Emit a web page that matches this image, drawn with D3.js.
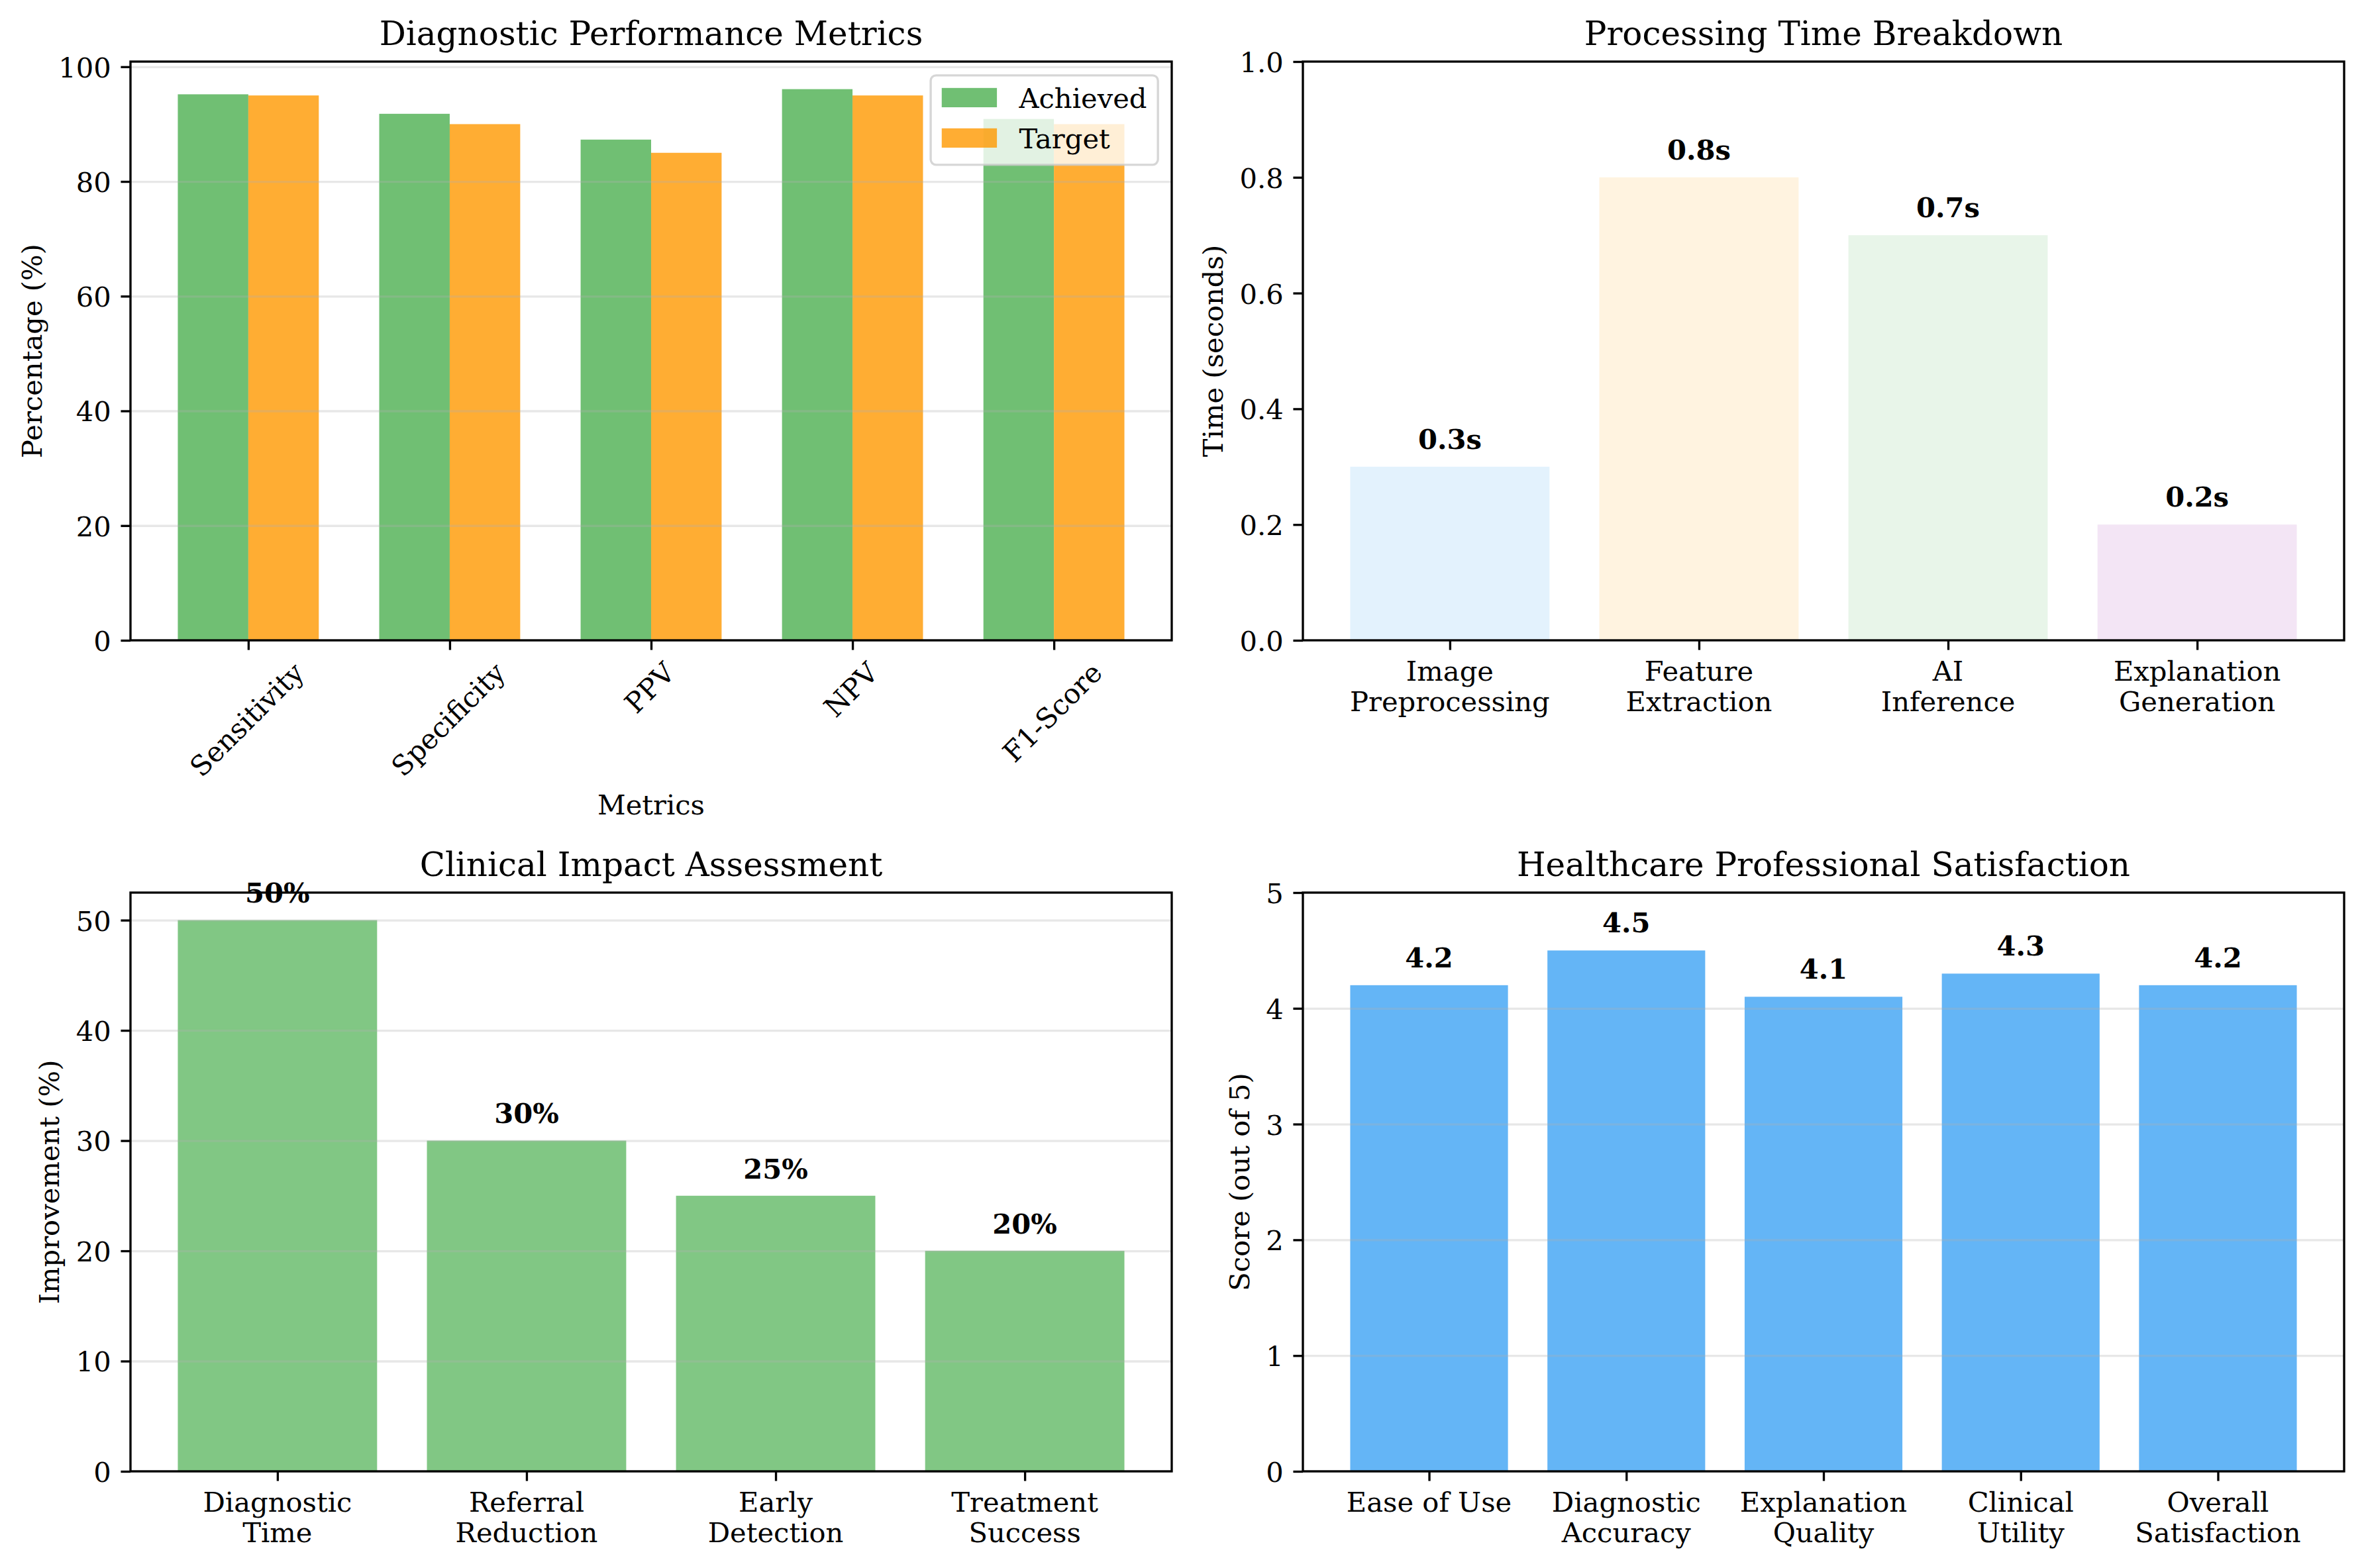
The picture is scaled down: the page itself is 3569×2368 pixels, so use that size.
<!DOCTYPE html>
<html>
<head>
<meta charset="utf-8">
<script src="https://cdn.jsdelivr.net/npm/d3@7"></script>
<style>
  body { margin: 0; background: #fff; }
</style>
</head>
<body>
<div id="chart"></div>
<script>
// values
const metricNames = ['Sensitivity', 'Specificity', 'PPV', 'NPV', 'F1-Score'];
const achievedVals = [95.2, 91.8, 87.3, 96.1, 90.9];
const targetVals = [95, 90, 85, 95, 90];
const metricTicks = [0, 20, 40, 60, 80, 100];

const stageNames = [['Image', 'Preprocessing'], ['Feature', 'Extraction'], ['AI', 'Inference'], ['Explanation', 'Generation']];
const stageTimes = [0.3, 0.8, 0.7, 0.2];
const stageColors = ['#E3F2FD', '#FFF3E0', '#E8F5E9', '#F3E5F5'];
const timeTicks = [0, 0.2, 0.4, 0.6, 0.8, 1.0];

const impactNames = [['Diagnostic', 'Time'], ['Referral', 'Reduction'], ['Early', 'Detection'], ['Treatment', 'Success']];
const impactVals = [50, 30, 25, 20];
const impactTicks = [0, 10, 20, 30, 40, 50];

const satNames = [['Ease of Use'], ['Diagnostic', 'Accuracy'], ['Explanation', 'Quality'], ['Clinical', 'Utility'], ['Overall', 'Satisfaction']];
const satVals = [4.2, 4.5, 4.1, 4.3, 4.2];
const satTicks = [0, 1, 2, 3, 4, 5];

const W = 3569, H = 2368;
const PT = 300 / 72;
const FS = 10 * PT, TFS = 12 * PT;
const LW = 0.8 * PT;
const TICK = 3.5 * PT;
const DESC = 0.21 * FS;

const svg = d3.select('#chart').append('svg')
    .attr('width', W).attr('height', H)
    .style('font-family', '"DejaVu Serif", serif');
svg.append('rect').attr('width', W).attr('height', H).attr('fill', '#fff');

function makeAxes(box, xDomain, yDomain) {
    const g = svg.append('g').attr('transform', `translate(${box.x},${box.y})`);
    const x = d3.scaleLinear().domain(xDomain).range([0, box.w]);
    const y = d3.scaleLinear().domain(yDomain).range([box.h, 0]);
    return { g, x, y, box };
}

// grid, spines, ticks, labels and title; called after the bars
function finishAxes(ax, o) {
    const { g, x, y, box } = ax;
    if (o.grid) {
        const grid = g.append('g').call(d3.axisLeft(y).tickValues(o.yTicks).tickSize(-box.w).tickFormat(''));
        grid.select('.domain').remove();
        grid.selectAll('line').attr('stroke', '#b0b0b0').attr('stroke-opacity', 0.3).attr('stroke-width', LW);
    }
    g.append('rect').attr('width', box.w).attr('height', box.h)
        .attr('fill', 'none').attr('stroke', '#000').attr('stroke-width', LW);

    const ya = g.append('g').call(d3.axisLeft(y).tickValues(o.yTicks).tickFormat(o.yFormat)
        .tickSize(TICK).tickSizeOuter(0).tickPadding(TICK));
    ya.select('.domain').remove();
    ya.selectAll('line').attr('stroke', '#000').attr('stroke-width', LW);
    ya.selectAll('text').attr('font-size', FS).attr('font-family', '"DejaVu Serif", serif')
        .attr('fill', '#000').attr('dy', '0.37em');
    let maxW = 0;
    ya.selectAll('text').each(function () { maxW = Math.max(maxW, this.getComputedTextLength()); });

    const xa = g.append('g').attr('transform', `translate(0,${box.h})`)
        .call(d3.axisBottom(x).tickValues(d3.range(o.labels.length)).tickFormat('').tickSize(TICK).tickSizeOuter(0));
    xa.select('.domain').remove();
    xa.selectAll('line').attr('stroke', '#000').attr('stroke-width', LW);

    let labelBottom = box.h + 2 * TICK;
    if (o.rotate) {
        const lh = 0.97 * FS, c = Math.SQRT1_2;
        o.labels.forEach((lab, i) => {
            const t = g.append('g');
            const txt = t.append('text').attr('font-size', FS).attr('text-anchor', 'middle')
                .attr('y', lh / 2 - DESC).text(lab);
            const tw = txt.node().getComputedTextLength();
            const half = (tw + lh) * c / 2;
            t.attr('transform', `translate(${x(i)},${box.h + 2 * TICK + half}) rotate(-45)`);
            labelBottom = Math.max(labelBottom, box.h + 2 * TICK + 2 * half);
        });
    } else {
        o.labels.forEach((lines, i) => {
            const txt = g.append('text').attr('font-size', FS).attr('text-anchor', 'middle')
                .attr('transform', `translate(${x(i)},${box.h + 61})`);
            lines.forEach((ln, k) => txt.append('tspan').attr('x', 0).attr('y', k * 46).text(ln));
        });
    }
    if (o.xlabel) {
        g.append('text').attr('font-size', FS).attr('text-anchor', 'middle')
            .attr('x', box.w / 2).attr('y', labelBottom + 4 * PT + 0.76 * FS).text(o.xlabel);
    }
    const yx = -(2 * TICK + maxW + 4 * PT + DESC);
    g.append('text').attr('font-size', FS).attr('text-anchor', 'middle')
        .attr('transform', `translate(${yx},${box.h / 2}) rotate(-90)`).text(o.ylabel);

    g.append('text').attr('font-size', TFS).attr('text-anchor', 'middle')
        .attr('x', box.w / 2).attr('y', -6 * PT).text(o.title);
}

function valueLabels(ax, vals, offset, fmt) {
    ax.g.selectAll(null).data(vals).join('text')
        .attr('font-size', FS).attr('font-weight', 'bold').attr('text-anchor', 'middle')
        .attr('x', (d, i) => ax.x(i))
        .attr('y', d => ax.y(d + offset) - 9.5)
        .text(fmt);
}

// 1. Diagnostic performance (grouped bars)
const bw = 0.35;
const a1 = makeAxes({ x: 197, y: 93, w: 1572, h: 874 }, [-0.585, 4.585], [0, 100.905]);
[[achievedVals, '#4CAF50', -bw / 2], [targetVals, '#FF9800', bw / 2]].forEach(([vals, col, off]) => {
    a1.g.selectAll(null).data(vals).join('rect')
        .attr('x', (d, i) => a1.x(i + off - bw / 2))
        .attr('width', a1.x(bw) - a1.x(0))
        .attr('y', d => a1.y(d))
        .attr('height', d => a1.y(0) - a1.y(d))
        .attr('fill', col).attr('fill-opacity', 0.8);
});
finishAxes(a1, {
    yTicks: metricTicks, yFormat: d3.format('d'), grid: true, labels: metricNames, rotate: true,
    xlabel: 'Metrics', ylabel: 'Percentage (%)', title: 'Diagnostic Performance Metrics'
});
// legend
{
    const lg = a1.g.append('g');
    const series = [['Achieved', '#4CAF50'], ['Target', '#FF9800']];
    const frame = lg.append('rect');
    let tw = 0;
    series.forEach(([name, col], i) => {
        lg.append('rect').attr('x', 0.4 * FS).attr('y', 19 + i * 61).attr('width', 2 * FS).attr('height', 0.7 * FS)
            .attr('fill', col).attr('fill-opacity', 0.8);
        const t = lg.append('text').attr('font-size', FS).attr('x', 3.2 * FS).attr('y', 49 + i * 61).text(name);
        tw = Math.max(tw, t.node().getComputedTextLength());
    });
    const lw = 3.2 * FS + tw + 0.4 * FS;
    frame.attr('width', lw).attr('height', 135).attr('rx', 8).attr('ry', 8)
        .attr('fill', '#fff').attr('fill-opacity', 0.8)
        .attr('stroke', '#cccccc').attr('stroke-opacity', 0.8).attr('stroke-width', LW);
    lg.attr('transform', `translate(${a1.box.w - 0.5 * FS - lw},${0.5 * FS})`);
}

// 2. Processing time
const a2 = makeAxes({ x: 1967, y: 93, w: 1572, h: 874 }, [-0.59, 3.59], [0, 1]);
a2.g.selectAll(null).data(stageTimes).join('rect')
    .attr('x', (d, i) => a2.x(i - 0.4))
    .attr('width', a2.x(0.8) - a2.x(0))
    .attr('y', d => a2.y(d))
    .attr('height', d => a2.y(0) - a2.y(d))
    .attr('fill', (d, i) => stageColors[i]);
valueLabels(a2, stageTimes, 0.02, d => d + 's');
finishAxes(a2, {
    yTicks: timeTicks, yFormat: d3.format('.1f'), grid: false, labels: stageNames,
    ylabel: 'Time (seconds)', title: 'Processing Time Breakdown'
});

// 3. Clinical impact
const a3 = makeAxes({ x: 197, y: 1348, w: 1572, h: 874 }, [-0.59, 3.59], [0, 52.5]);
a3.g.selectAll(null).data(impactVals).join('rect')
    .attr('x', (d, i) => a3.x(i - 0.4))
    .attr('width', a3.x(0.8) - a3.x(0))
    .attr('y', d => a3.y(d))
    .attr('height', d => a3.y(0) - a3.y(d))
    .attr('fill', '#81C784');
valueLabels(a3, impactVals, 1, d => d + '%');
finishAxes(a3, {
    yTicks: impactTicks, yFormat: d3.format('d'), grid: true, labels: impactNames,
    ylabel: 'Improvement (%)', title: 'Clinical Impact Assessment'
});

// 4. Satisfaction
const a4 = makeAxes({ x: 1967, y: 1348, w: 1572, h: 874 }, [-0.64, 4.64], [0, 5]);
a4.g.selectAll(null).data(satVals).join('rect')
    .attr('x', (d, i) => a4.x(i - 0.4))
    .attr('width', a4.x(0.8) - a4.x(0))
    .attr('y', d => a4.y(d))
    .attr('height', d => a4.y(0) - a4.y(d))
    .attr('fill', '#64B5F6');
valueLabels(a4, satVals, 0.1, d => d.toFixed(1));
finishAxes(a4, {
    yTicks: satTicks, yFormat: d3.format('d'), grid: true, labels: satNames,
    ylabel: 'Score (out of 5)', title: 'Healthcare Professional Satisfaction'
});
</script>
</body>
</html>
